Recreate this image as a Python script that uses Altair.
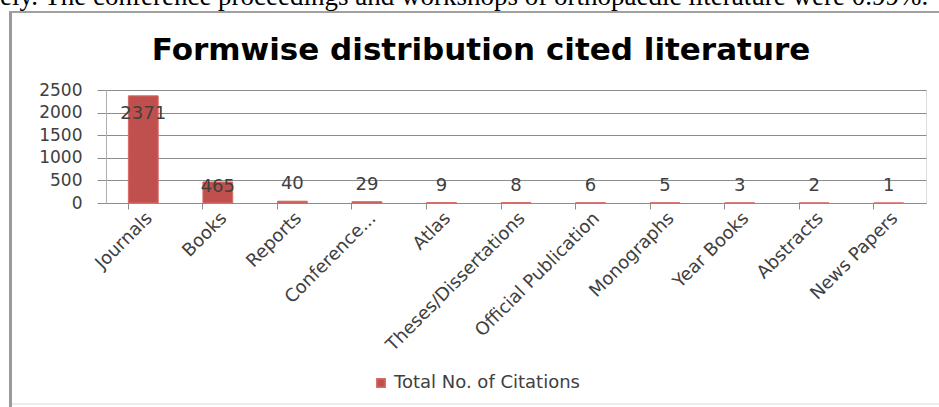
import altair as alt
import pandas as pd

categories = ["Journals", "Books", "Reports", "Conference...", "Atlas",
              "Theses/Dissertations", "Official Publication", "Monographs",
              "Year Books", "Abstracts", "News Papers"]
values = [2371, 465, 40, 29, 9, 8, 6, 5, 3, 2, 1]
series_name = "Total No. of Citations"
title_text = "Formwise distribution cited literature"
top_text = "ely. The conference proceedings and workshops of orthopaedic literature were 0.99%."

df = pd.DataFrame({"cat": categories, "value": values})
df["series"] = series_name

W, H = 820, 113
PL, PT = 106, 90
RED = "#C0504D"
FONT = "DejaVu Sans"
GRID = "#8c8c8c"

yaxis = alt.Axis(values=[0, 500, 1000, 1500, 2000, 2500], format="d", labelFontSize=17,
                 labelColor="#404040", labelFont=FONT, tickSize=9,
                 tickColor=GRID, domainColor="#b0b0b0",
                 grid=True, gridColor=GRID, gridWidth=1, labelPadding=15)
yenc = alt.Y("value:Q", title=None,
             scale=alt.Scale(domain=[0, 2500], nice=False), axis=yaxis)

xenc = alt.X("cat:N", sort=categories, title=None,
             scale=alt.Scale(paddingInner=0.6, paddingOuter=0.3),
             axis=alt.Axis(labelAngle=-45, labelFontSize=18, labelColor="#404040",
                           labelFont=FONT, ticks=False, domainColor=GRID,
                           labelPadding=6, labelLimit=0, orient="bottom"))

base = alt.Chart(df)

bars = base.mark_bar(color=RED, stroke="#d86a66", strokeWidth=1).encode(
    x=xenc, y=yenc,
    color=alt.Color("series:N", scale=alt.Scale(range=[RED]),
                    legend=alt.Legend(orient="none", legendX=266, legendY=284,
                                      title=None, symbolType="square", symbolSize=70,
                                      labelFontSize=18, labelFont=FONT, labelLimit=0,
                                      labelColor="#404040")))

xnone = alt.X("cat:N", sort=categories, axis=None)

ticks_layer = base.mark_text(opacity=0).encode(
    x=alt.X("cat:N", sort=categories, title=None,
            axis=alt.Axis(bandPosition=0, labels=False, domain=False, tickSize=6,
                          tickColor=GRID, orient="bottom")),
    y=yenc, text="value:Q")

LBL = dict(fontSize=18, font=FONT, color="#404040")
lab_big = base.transform_filter("datum.value >= 1000").mark_text(
    baseline="top", dy=9, **LBL).encode(x=xnone, y=yenc, text="value:Q")
lab_mid = base.transform_filter("datum.value >= 100 && datum.value < 1000").mark_text(
    baseline="top", dy=-4, **LBL).encode(x=xnone, y=yenc, text="value:Q")
lab_small = base.transform_filter("datum.value < 100").mark_text(
    baseline="alphabetic", dy=-12, **LBL).encode(x=xnone, y=yenc, text="value:Q")

one = alt.Data(values=[{"t": title_text, "s": top_text}])
title_layer = alt.Chart(one).mark_text(
    fontSize=31, font=FONT, fontWeight="bold", color="#000000",
    align="center", baseline="middle").encode(
    x=alt.value(481 - PL), y=alt.value(51 - PT), text="t:N")
top_layer = alt.Chart(one).mark_text(
    fontSize=27, font="Liberation Serif", color="#000000",
    align="left", baseline="alphabetic").encode(
    x=alt.value(0 - PL), y=alt.value(5 - PT), text="s:N")
left_line = alt.Chart(one).mark_rule(color="#9a9a9a", strokeWidth=3).encode(
    x=alt.value(10.5 - PL), y=alt.value(12 - PT), y2=alt.value(407 - PT))
top_line = alt.Chart(one).mark_rule(color="#a0a0a0", strokeWidth=2).encode(
    x=alt.value(9 - PL), x2=alt.value(939 - PL), y=alt.value(12 - PT))
bottom_line = alt.Chart(one).mark_rule(color="#ececec", strokeWidth=2).encode(
    x=alt.value(12 - PL), x2=alt.value(939 - PL), y=alt.value(404 - PT))

chart = alt.layer(
    bars, ticks_layer, lab_big, lab_mid, lab_small, title_layer, top_layer,
    left_line, top_line, bottom_line
).resolve_axis(x="independent").properties(
    width=W, height=H,
    autosize=alt.AutoSizeParams(type="none"),
    padding={"left": PL, "top": PT, "right": 939 - PL - W, "bottom": 407 - PT - H},
).configure_view(strokeWidth=0, stroke="transparent").configure(background="white")

chart.save("out.html", embed_options={"renderer": "svg", "actions": False})
